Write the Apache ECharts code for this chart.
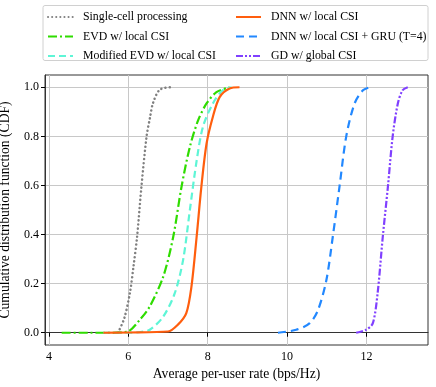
<!DOCTYPE html>
<html>
<head>
<meta charset="utf-8">
<script src="https://cdn.jsdelivr.net/npm/echarts@6/dist/echarts.min.js"></script>
<style>
  html, body { margin: 0; padding: 0; background: #fff; }
  #chart { width: 436px; height: 387px; }
</style>
</head>
<body>
<div id="chart"></div>
<script>
// CDF curves
const singleX = [5.74, 5.9, 6.04, 6.13, 6.22, 6.33, 6.46, 6.55, 6.62, 6.79, 7.06];
const singleY = [0, 0.06, 0.163, 0.27, 0.39, 0.595, 0.80, 0.88, 0.935, 0.99, 1.0];

const evdX = [4.32, 5.0, 5.6, 5.85, 6.0, 6.29, 6.54, 6.88, 7.13, 7.34, 7.55, 7.76, 7.97, 8.22, 8.55];
const evdY = [0, 0, 0, 0.002, 0.005, 0.053, 0.107, 0.229, 0.39, 0.595, 0.757, 0.866, 0.934, 0.98, 1.0];

const modEvdX = [5.37, 6.0, 6.3, 6.54, 6.88, 7.17, 7.38, 7.55, 7.72, 7.88, 8.13, 8.38, 8.6];
const modEvdY = [0, 0, 0.003, 0.012, 0.066, 0.161, 0.297, 0.5, 0.70, 0.839, 0.934, 0.988, 1.0];

const dnnX = [5.37, 6.0, 7.0, 7.25, 7.46, 7.59, 7.72, 7.84, 7.97, 8.13, 8.3, 8.55, 8.8];
const dnnY = [0, 0.001, 0.005, 0.033, 0.08, 0.188, 0.39, 0.595, 0.77, 0.88, 0.96, 0.995, 1.0];

const gruX = [9.77, 10.23, 10.57, 10.78, 10.99, 11.15, 11.32, 11.49, 11.70, 11.91, 12.08];
const gruY = [0, 0.012, 0.039, 0.093, 0.215, 0.39, 0.595, 0.80, 0.934, 0.988, 1.0];

const gdX = [11.74, 11.99, 12.16, 12.28, 12.41, 12.54, 12.66, 12.79, 12.91, 13.04];
const gdY = [0, 0.012, 0.039, 0.16, 0.39, 0.595, 0.80, 0.934, 0.988, 1.0];

const xTicks = [4, 6, 8, 10, 12];
const yTicks = [0, 0.2, 0.4, 0.6, 0.8, 1.0];

const names = [
  'Single-cell processing',
  'EVD w/ local CSI',
  'Modified EVD w/ local CSI',
  'DNN w/ local CSI',
  'DNN w/ local CSI + GRU (T=4)',
  'GD w/ global CSI'
];

const font = "'Liberation Serif', 'DejaVu Serif', serif";

function zip(xs, ys) {
  return xs.map((x, i) => [x, ys[i]]);
}

function line(name, xs, ys, color, type, extra) {
  return {
    name: name,
    type: 'line',
    data: zip(xs, ys),
    showSymbol: false,
    symbol: 'none',
    smooth: 0.3,
    lineStyle: Object.assign({ color: color, width: 2.2, type: type }, extra || {}),
    itemStyle: { color: color }
  };
}

const chart = echarts.init(document.getElementById('chart'));

const legendCommon = {
  orient: 'vertical',
  itemWidth: 25,
  itemHeight: 10,
  itemGap: 7.5,
  padding: 0,
  itemStyle: { opacity: 0 },
  textStyle: { fontFamily: font, fontSize: 11.8, color: '#000', padding: [0, 0, 0, 5] },
  selectedMode: false
};

let option = {
  animation: false,
  graphic: [{
    type: 'rect',
    shape: { x: 43, y: 5.5, width: 385, height: 55, r: 2 },
    style: { fill: '#fff', stroke: '#d0d0d0', lineWidth: 1 },
    z: 0
  }],
  legend: [
    Object.assign({}, legendCommon, { left: 47, top: 11, data: names.slice(0, 3) }),
    Object.assign({}, legendCommon, { left: 235, top: 11, data: names.slice(3) })
  ],
  grid: {
    left: 45,
    right: 8,
    top: 75,
    bottom: 42,
    outerBoundsMode: 'none',
    containLabel: false,
    show: true,
    borderColor: '#333',
    borderWidth: 1
  },
  xAxis: {
    type: 'value',
    min: 3.9,
    max: 13.55,
    name: 'Average per-user rate (bps/Hz)',
    nameLocation: 'middle',
    nameGap: 22,
    nameTextStyle: { fontFamily: font, fontSize: 13.6, color: '#000' },
    axisLine: { lineStyle: { color: '#333' } },
    axisTick: { show: true, length: 4, customValues: xTicks, lineStyle: { color: '#000' } },
    axisLabel: { customValues: xTicks, fontFamily: font, fontSize: 12, color: '#000', margin: 6 },
    splitLine: { show: true, lineStyle: { color: '#c8c8c8', width: 1 } }
  },
  yAxis: {
    type: 'value',
    min: -0.05,
    max: 1.05,
    name: 'Cumulative distribution function (CDF)',
    nameLocation: 'middle',
    nameGap: 33,
    nameTextStyle: { fontFamily: font, fontSize: 13.6, color: '#000' },
    axisLine: { show: true, lineStyle: { color: '#333' } },
    axisTick: { show: true, length: 4, customValues: yTicks, lineStyle: { color: '#000' } },
    axisLabel: {
      customValues: yTicks,
      fontFamily: font, fontSize: 12, color: '#000', margin: 6,
      formatter: v => v.toFixed(1)
    },
    splitLine: { show: true, lineStyle: { color: '#c8c8c8', width: 1 } }
  },
  series: [
    line(names[0], singleX, singleY, '#808080', [0.1, 4], { cap: 'round', width: 2.5 }),
    line(names[1], evdX, evdY, '#2fdc00', [9, 3, 2, 3]),
    line(names[2], modEvdX, modEvdY, '#5ef5d6', [7, 4]),
    line(names[3], dnnX, dnnY, '#ff5e0e', 'solid'),
    line(names[4], gruX, gruY, '#2288ff', [8, 5]),
    line(names[5], gdX, gdY, '#8040ff', [7, 2, 2, 2, 2, 2])
  ]
};

chart.setOption(option);
</script>
</body>
</html>
